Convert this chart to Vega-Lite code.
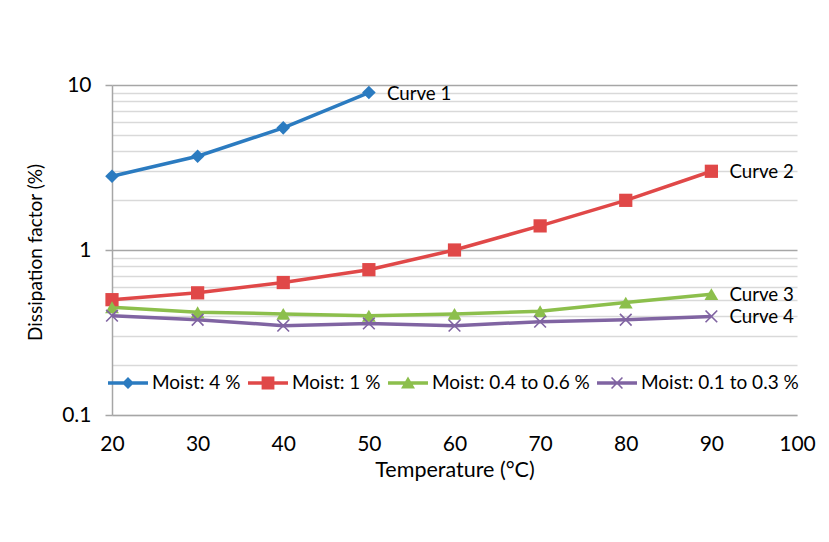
{
  "$schema": "https://vega.github.io/schema/vega-lite/v6.json",
  "width": 685,
  "height": 330,
  "autosize": {"type": "none"},
  "padding": {"left": 112, "top": 85, "right": 32, "bottom": 127},
  "background": "white",
  "config": {
    "view": {"stroke": null},
    "font": "Lato",
    "text": {"font": "Lato"}
  },
  "data": {
    "values": [
      {"series": "Moist: 4 %", "temp": 20, "value": 2.8},
      {"series": "Moist: 4 %", "temp": 30, "value": 3.7},
      {"series": "Moist: 4 %", "temp": 40, "value": 5.5},
      {"series": "Moist: 4 %", "temp": 50, "value": 9.0, "label": "Curve 1"},
      {"series": "Moist: 1 %", "temp": 20, "value": 0.5},
      {"series": "Moist: 1 %", "temp": 30, "value": 0.55},
      {"series": "Moist: 1 %", "temp": 40, "value": 0.635},
      {"series": "Moist: 1 %", "temp": 50, "value": 0.76},
      {"series": "Moist: 1 %", "temp": 60, "value": 1.0},
      {"series": "Moist: 1 %", "temp": 70, "value": 1.4},
      {"series": "Moist: 1 %", "temp": 80, "value": 2.0},
      {"series": "Moist: 1 %", "temp": 90, "value": 3.0, "label": "Curve 2"},
      {"series": "Moist: 0.4 to 0.6 %", "temp": 20, "value": 0.45},
      {"series": "Moist: 0.4 to 0.6 %", "temp": 30, "value": 0.42},
      {"series": "Moist: 0.4 to 0.6 %", "temp": 40, "value": 0.41},
      {"series": "Moist: 0.4 to 0.6 %", "temp": 50, "value": 0.4},
      {"series": "Moist: 0.4 to 0.6 %", "temp": 60, "value": 0.41},
      {"series": "Moist: 0.4 to 0.6 %", "temp": 70, "value": 0.425},
      {"series": "Moist: 0.4 to 0.6 %", "temp": 80, "value": 0.48},
      {"series": "Moist: 0.4 to 0.6 %", "temp": 90, "value": 0.54, "label": "Curve 3"},
      {"series": "Moist: 0.1 to 0.3 %", "temp": 20, "value": 0.4},
      {"series": "Moist: 0.1 to 0.3 %", "temp": 30, "value": 0.378},
      {"series": "Moist: 0.1 to 0.3 %", "temp": 40, "value": 0.348},
      {"series": "Moist: 0.1 to 0.3 %", "temp": 50, "value": 0.359},
      {"series": "Moist: 0.1 to 0.3 %", "temp": 60, "value": 0.348},
      {"series": "Moist: 0.1 to 0.3 %", "temp": 70, "value": 0.368},
      {"series": "Moist: 0.1 to 0.3 %", "temp": 80, "value": 0.378},
      {"series": "Moist: 0.1 to 0.3 %", "temp": 90, "value": 0.396, "label": "Curve 4"}
    ]
  },
  "encoding": {
    "x": {
      "field": "temp",
      "type": "quantitative",
      "scale": {"domain": [20, 100], "nice": false, "zero": false},
      "axis": {
        "values": [20, 30, 40, 50, 60, 70, 80, 90, 100],
        "ticks": false,
        "grid": false,
        "domainColor": "#a6a6a6",
        "domainWidth": 1.5,
        "labelFont": "Lato",
        "labelFontSize": 21,
        "labelColor": "#000000",
        "labelPadding": 29,
        "labelBaseline": "middle",
        "labelFlush": false,
        "labelOverlap": false,
        "title": "Temperature (°C)",
        "titleFont": "Lato",
        "titleFontSize": 21.5,
        "titleFontWeight": "normal",
        "titleColor": "#000000",
        "titleBaseline": "middle",
        "titleY": 55
      }
    },
    "y": {
      "field": "value",
      "type": "quantitative",
      "scale": {"type": "log", "domain": [0.1, 10], "nice": false},
      "axis": {
        "values": [0.1, 0.2, 0.3, 0.4, 0.5, 0.6, 0.7, 0.8, 0.9, 1, 2, 3, 4, 5, 6, 7, 8, 9, 10],
        "labelExpr": "datum.value == 10 ? '10' : datum.value == 1 ? '1' : datum.value == 0.1 ? '0.1' : ''",
        "labelOverlap": false,
        "labelBound": false,
        "labelFlush": false,
        "labelFont": "Lato",
        "labelFontSize": 21,
        "labelColor": "#000000",
        "labelPadding": 14,
        "grid": true,
        "gridWidth": 1.5,
        "gridColor": {"condition": {"test": "datum.value == 1 || datum.value == 10", "value": "#a6a6a6"}, "value": "#d9d9d9"},
        "tickSize": 7,
        "tickWidth": 1.5,
        "tickColor": {"condition": {"test": "datum.value == 0.1 || datum.value == 1 || datum.value == 10", "value": "#a6a6a6"}, "value": "transparent"},
        "domainColor": "#a6a6a6",
        "domainWidth": 1.5,
        "title": "Dissipation factor (%)",
        "titleFont": "Lato",
        "titleFontSize": 19,
        "titleFontWeight": "normal",
        "titleColor": "#000000",
        "titleAngle": -90,
        "titleBaseline": "middle",
        "titleAlign": "center",
        "titleX": -77,
        "titleY": 167
      }
    },
    "color": {
      "field": "series",
      "type": "nominal",
      "scale": {
        "domain": ["Moist: 4 %", "Moist: 1 %", "Moist: 0.4 to 0.6 %", "Moist: 0.1 to 0.3 %"],
        "range": ["#2b7bc0", "#e04848", "#8cbf4c", "#8064a2"]
      },
      "legend": {
        "title": null,
        "orient": "none",
        "direction": "horizontal",
        "legendX": -4,
        "legendY": 278,
        "padding": 0,
        "symbolSize": 1600,
        "symbolStrokeWidth": 0,
        "labelOffset": 4,
        "columnPadding": 7,
        "labelFont": "Lato",
        "labelFontSize": 19,
        "labelColor": "#000000",
        "labelLimit": 0,
        "encode": {
          "symbols": {
            "update": {
              "shape": {"signal": "datum.value === 'Moist: 4 %' ? 'M-1,-0.09H1V0.09H-1ZM0,-0.3L0.3,0L0,0.3L-0.3,0Z' : datum.value === 'Moist: 1 %' ? 'M-1,-0.09H1V0.09H-1ZM-0.32,-0.32H0.32V0.32H-0.32Z' : datum.value === 'Moist: 0.4 to 0.6 %' ? 'M-1,-0.09H1V0.09H-1ZM0,-0.32L0.35,0.27H-0.35Z' : 'M-1,-0.09H1V0.09H-1ZM-0.245,-0.3L0,-0.055L0.245,-0.3L0.3,-0.245L0.055,0L0.3,0.245L0.245,0.3L0,0.055L-0.245,0.3L-0.3,0.245L-0.055,0L-0.3,-0.245Z'"},
              "fill": {"scale": "color", "field": "value"},
              "stroke": {"value": "transparent"},
              "strokeWidth": {"value": 0},
              "size": {"value": 1600},
              "opacity": {"value": 1}
            }
          }
        }
      }
    }
  },
  "layer": [
    {
      "mark": {"type": "line", "strokeWidth": 3.5},
      "encoding": {}
    },
    {
      "transform": [{"filter": "datum.series === 'Moist: 4 %'"}],
      "mark": {"type": "point", "shape": "diamond", "filled": true, "opacity": 1, "size": 185, "strokeWidth": 0},
      "encoding": {}
    },
    {
      "transform": [{"filter": "datum.series === 'Moist: 1 %'"}],
      "mark": {"type": "point", "shape": "square", "filled": true, "opacity": 1, "size": 175, "strokeWidth": 0},
      "encoding": {}
    },
    {
      "transform": [{"filter": "datum.series === 'Moist: 0.4 to 0.6 %'"}],
      "mark": {"type": "point", "shape": "triangle-up", "filled": true, "opacity": 1, "size": 190, "strokeWidth": 0},
      "encoding": {}
    },
    {
      "transform": [{"filter": "datum.series === 'Moist: 0.1 to 0.3 %'"}],
      "mark": {"type": "point", "shape": "M-0.82,-1L0,-0.18L0.82,-1L1,-0.82L0.18,0L1,0.82L0.82,1L0,0.18L-0.82,1L-1,0.82L-0.18,0L-1,-0.82Z", "filled": true, "opacity": 1, "size": 165, "strokeWidth": 0},
      "encoding": {}
    },
    {
      "transform": [{"filter": "isValid(datum.label)"}],
      "mark": {"type": "text", "align": "left", "baseline": "middle", "dx": 18, "dy": 1, "font": "Lato", "fontSize": 18.7, "color": "#000000"},
      "encoding": {
        "text": {"field": "label", "type": "nominal"},
        "color": {"value": "#000000"}
      }
    }
  ]
}
